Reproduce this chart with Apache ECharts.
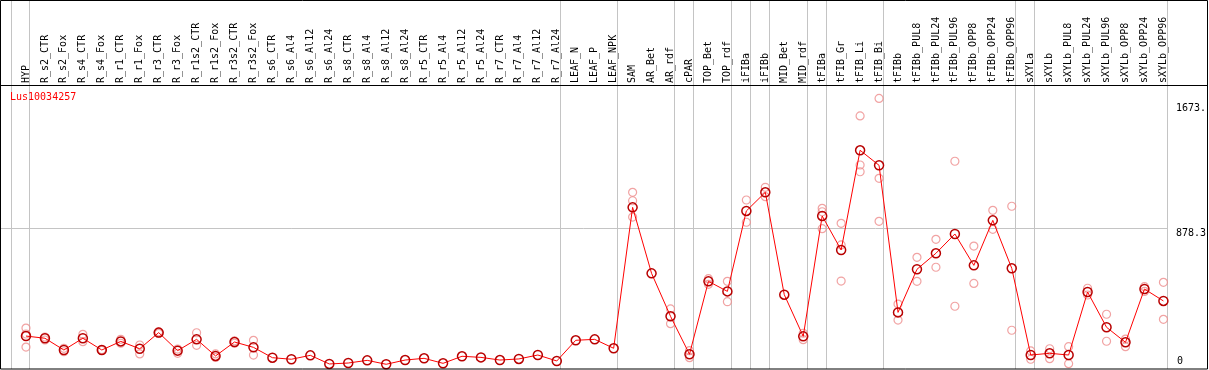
<!DOCTYPE html>
<html>
<head>
<meta charset="utf-8">
<script src="https://cdn.jsdelivr.net/npm/echarts@6.0.0/dist/echarts.min.js"></script>
<style>
html,body{margin:0;padding:0;background:#fff;}
#chart{width:1209px;height:370px;}
</style>
</head>
<body>
<div id="chart"></div>
<script>
const geneName = 'Lus10034257';
const categories = ['HYP','R_s2_CTR','R_s2_Fox','R_s4_CTR','R_s4_Fox','R_r1_CTR','R_r1_Fox','R_r3_CTR','R_r3_Fox',
  'R_r1s2_CTR','R_r1s2_Fox','R_r3s2_CTR','R_r3s2_Fox','R_s6_CTR','R_s6_Al4','R_s6_Al12','R_s6_Al24',
  'R_s8_CTR','R_s8_Al4','R_s8_Al12','R_s8_Al24','R_r5_CTR','R_r5_Al4','R_r5_Al12','R_r5_Al24',
  'R_r7_CTR','R_r7_Al4','R_r7_Al12','R_r7_Al24','LEAF_N','LEAF_P','LEAF_NPK','SAM','AR_Bet','AR_rdf',
  'cPAR','TOP_Bet','TOP_rdf','iFIBa','iFIBb','MID_Bet','MID_rdf','tFIBa','tFIB_Gr','tFIB_Li','tFIB_Bi',
  'tFIBb','tFIBb_PUL8','tFIBb_PUL24','tFIBb_PUL96','tFIBb_OPP8','tFIBb_OPP24','tFIBb_OPP96',
  'sXYLa','sXYLb','sXYLb_PUL8','sXYLb_PUL24','sXYLb_PUL96','sXYLb_OPP8','sXYLb_OPP24','sXYLb_OPP96'];
const means = [191,177,102,177,102,157,110,213,98,170,64,153,119,53,43,68,13,19,36,11,38,49,17,62,55,38,45,70,32,
  164,170,113,1012,591,317,75,540,476,989,1108,455,189,957,740,1376,1280,
  342,617,719,842,642,929,623,70,81,70,472,247,151,491,415];
const rep1 = [242,185,113,202,105,170,134,218,108,212,77,160,164,null,null,null,null,null,null,null,null,null,null,null,null,null,null,null,null,
  null,null,null,1108,null,364,98,557,540,1059,1140,null,209,1006,910,1595,1707,
  395,693,808,1306,765,993,1019,96,110,123,496,330,172,506,534];
const rep2 = [121,166,91,155,99,145,77,208,81,132,55,145,70,null,null,null,null,null,null,null,null,null,null,null,null,null,null,null,null,
  null,null,null,1054,null,270,53,521,410,917,1080,null,168,984,772,1282,1197,
  293,540,630,381,527,872,228,43,47,15,453,158,123,476,298];
const rep3 = [204,null,null,null,null,null,null,null,null,null,null,null,null,null,null,null,null,null,null,null,null,null,null,null,null,null,null,null,null,
  null,null,null,950,null,null,null,null,null,null,null,null,null,876,542,1239,923,
  null,null,null,null,null,null,null,null,null,null,null,null,null,null,null];
const groupEnds = [-1,0,28,31,34,35,37,38,39,41,42,45,52,53,60];
const yTickValues = [0, 878.3, 1673];
const yTickLabels = ['0', '878.3', '1673.'];
const yMax = 1786;

const FONT = 'DejaVu Sans Mono';
const chart = echarts.init(document.getElementById('chart'), null, {renderer:'canvas'});
const repStyle = {color:'rgba(0,0,0,0)', borderColor:'#ee8c8c', borderWidth:1.2};
function repSeries(d){
  return {type:'scatter', data:d, symbol:'circle', symbolSize:8, itemStyle:repStyle, z:2, silent:true};
}
const labelFor = v => { const i = yTickValues.indexOf(v); return i >= 0 ? yTickLabels[i] : ''; };
chart.setOption({
  animation:false,
  title:{text:geneName, left:10, top:92, padding:0,
    textStyle:{color:'#ff0000', fontFamily:FONT, fontSize:10, fontWeight:'normal'}},
  grid:{left:16.5, right:33.5, top:86, bottom:4},
  xAxis:{type:'category', data:categories, position:'top', boundaryGap:true,
    axisLine:{show:false}, axisTick:{show:false}, splitLine:{show:false},
    axisLabel:{rotate:90, interval:0, margin:3, color:'#000', fontFamily:FONT, fontSize:10}},
  yAxis:[
    {type:'value', min:0, max:yMax, position:'right', axisLine:{show:false}, axisTick:{show:false}, splitLine:{show:false},
      axisLabel:{customValues:yTickValues.slice(1), formatter:labelFor, margin:3, verticalAlign:'top',
        color:'#000', fontFamily:FONT, fontSize:10}},
    {type:'value', min:0, max:yMax, position:'right', axisLine:{show:false}, axisTick:{show:false}, splitLine:{show:false},
      axisLabel:{customValues:yTickValues.slice(0,1), formatter:labelFor, margin:4, verticalAlign:'bottom',
        color:'#000', fontFamily:FONT, fontSize:10}}
  ],
  series:[
    repSeries(rep1), repSeries(rep2), repSeries(rep3),
    {type:'line', data:means, symbol:'circle', symbolSize:9, z:3, silent:true,
      lineStyle:{color:'#ff0000', width:1},
      itemStyle:{color:'rgba(0,0,0,0)', borderColor:'#b80000', borderWidth:1.5}}
  ]
});

// frame, group dividers and mid gridline placed via the chart's own scales
const px0 = chart.convertToPixel({xAxisIndex:0}, 0);
const px1 = chart.convertToPixel({xAxisIndex:0}, 1);
const step = px1 - px0;
const graphics = [];
groupEnds.forEach(i => {
  const x = Math.floor(px0 + step * i + 4) + 0.5;
  graphics.push({type:'line', shape:{x1:x, y1:0, x2:x, y2:369}, style:{stroke:'#c4c4c4', lineWidth:1}, z:1, silent:true});
});
const yMid = Math.floor(chart.convertToPixel({yAxisIndex:0}, yTickValues[1])) + 0.5;
const xRightDiv = Math.floor(px0 + step * 60 + 4) + 0.5;
graphics.push({type:'line', shape:{x1:0, y1:yMid, x2:xRightDiv, y2:yMid}, style:{stroke:'#c4c4c4', lineWidth:1}, z:1, silent:true});
graphics.push({type:'line', shape:{x1:0, y1:85.5, x2:1208, y2:85.5}, style:{stroke:'#000', lineWidth:1}, z:5, silent:true});
graphics.push({type:'rect', shape:{x:0.5, y:0.5, width:1207, height:368.5}, style:{fill:null, stroke:'#000', lineWidth:1}, z:5, silent:true});
chart.setOption({graphic:graphics});
</script>
</body>
</html>
